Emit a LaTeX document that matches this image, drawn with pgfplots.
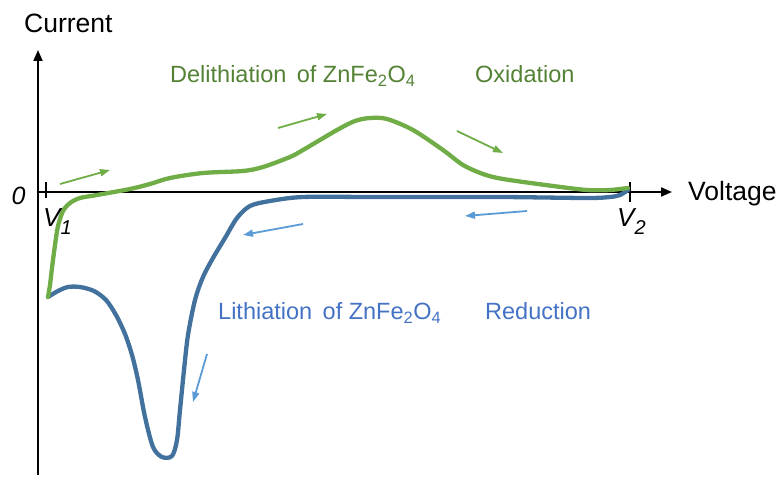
\documentclass[border=0pt]{standalone}
\usepackage{fontspec}
\setmainfont{Liberation Sans}
\usepackage{pgfplots}
\pgfplotsset{compat=1.18}
\usetikzlibrary{arrows.meta}
\definecolor{gline}{HTML}{70AD47}
\definecolor{gtext}{HTML}{548235}
\definecolor{bline}{HTML}{41719C}
\definecolor{btext}{HTML}{4472C4}
\definecolor{barrow}{HTML}{5B9BD5}
\begin{document}
\begin{tikzpicture}
\begin{axis}[hide axis, clip=false, scale only axis,
  width=781pt, height=479pt,
  xmin=-38, xmax=743, ymin=-287, ymax=192]
\path (axis cs:-38,-287) rectangle (axis cs:743,192);
% axes
\draw[line width=2pt, -{Triangle[length=11pt,width=9pt]}] (axis cs:0,-283) -- (axis cs:0,142);
\draw[line width=2pt, -{Triangle[length=11pt,width=9pt]}] (axis cs:0,0) -- (axis cs:634,0);
\draw[line width=2pt] (axis cs:8,10) -- (axis cs:8,-6);
\draw[line width=2pt] (axis cs:592,10) -- (axis cs:592,-10);
% reduction (blue)
\addplot[bline, line width=4.3pt, smooth, tension=0.5, line join=round, line cap=round] coordinates {
(10,-105) (20,-99) (30,-95) (42,-95) (56,-99) (68,-108) (78,-123) (87,-142) (94,-163)
(100,-188) (107,-225) (115,-255) (124,-265) (134,-264) (139,-248) (142,-218)
(146,-178) (150,-143) (157,-108) (165,-85) (175,-66) (187,-46) (199,-26)
(212,-14) (232,-9) (265,-5) (332,-5) (399,-5) (465,-5) (549,-6) (572,-5) (582,-3) (590,2)
};
% oxidation (green)
\addplot[gline, line width=4.3pt, smooth, tension=0.5, line join=round, line cap=round] coordinates {
(10,-105) (12,-93) (14,-76) (17,-53) (20,-34) (25,-19) (32,-11) (42,-6) (59,-3)
(92,3) (112,8) (132,14) (165,19) (205,21) (225,25) (252,35) (265,42) (299,62)
(317,71) (332,74) (349,73) (375,62) (405,42) (425,27) (445,18) (465,13)
(515,6) (549,2) (572,2) (590,4)
};
% direction arrows
\draw[gline, line width=1.8pt, -{Triangle[length=10pt,width=7pt]}] (axis cs:22,8) -- (axis cs:72,22);
\draw[gline, line width=1.8pt, -{Triangle[length=10pt,width=7pt]}] (axis cs:240,64) -- (axis cs:289,78);
\draw[gline, line width=1.8pt, -{Triangle[length=10pt,width=7pt]}] (axis cs:419,61) -- (axis cs:465,39);
\draw[barrow, line width=1.8pt, -{Triangle[length=10pt,width=7pt]}] (axis cs:489,-19) -- (axis cs:427,-24);
\draw[barrow, line width=1.8pt, -{Triangle[length=10pt,width=7pt]}] (axis cs:265,-32) -- (axis cs:205,-43);
\draw[barrow, line width=1.8pt, -{Triangle[length=10pt,width=7pt]}] (axis cs:169,-162) -- (axis cs:155,-210);
% labels
\node[anchor=base west, inner sep=0pt, font=\fontsize{26.5}{30}\selectfont] at (axis cs:-14,159) {Current};
\node[anchor=base west, inner sep=0pt, font=\fontsize{26.5}{30}\selectfont] at (axis cs:650,-9) {Voltage};
\node[anchor=center, inner sep=0pt, font=\fontsize{25}{28}\selectfont\itshape] at (axis cs:-19.5,-3.5) {0};
\node[anchor=base west, inner sep=0pt, font=\fontsize{26}{30}\selectfont\itshape] at (axis cs:5,-35) {V\raisebox{-0.3em}{\fontsize{20}{24}\selectfont 1}};
\node[anchor=base west, inner sep=0pt, font=\fontsize{26}{30}\selectfont\itshape] at (axis cs:579,-35) {V\raisebox{-0.3em}{\fontsize{20}{24}\selectfont 2}};
\node[anchor=base west, inner sep=0pt, text=gtext, font=\fontsize{23.5}{28}\selectfont] at (axis cs:132,109) {Delithiation\, of ZnFe\textsubscript{2}O\textsubscript{4}};
\node[anchor=base west, inner sep=0pt, text=gtext, font=\fontsize{23.5}{28}\selectfont] at (axis cs:437,109) {Oxidation};
\node[anchor=base west, inner sep=0pt, text=btext, font=\fontsize{23.5}{28}\selectfont] at (axis cs:180,-128) {Lithiation\, of ZnFe\textsubscript{2}O\textsubscript{4}};
\node[anchor=base west, inner sep=0pt, text=btext, font=\fontsize{23.5}{28}\selectfont] at (axis cs:447,-128) {Reduction};
\end{axis}
\end{tikzpicture}
\end{document}
